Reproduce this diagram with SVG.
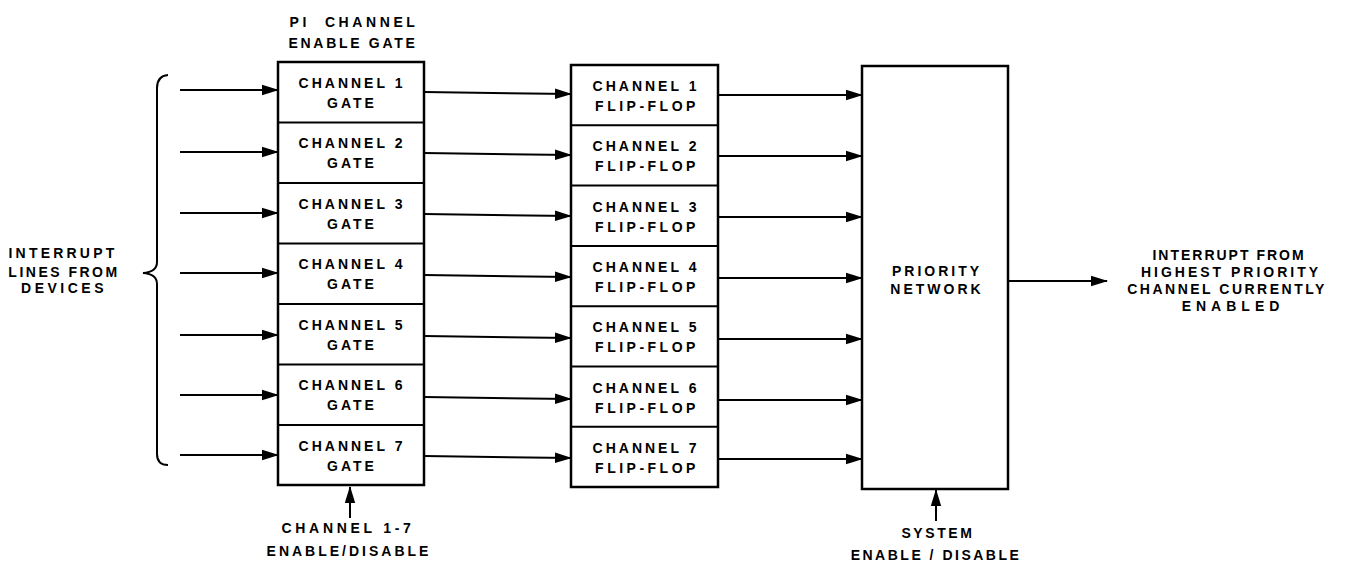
<svg xmlns="http://www.w3.org/2000/svg" width="1348" height="563" viewBox="0 0 1348 563">
<style>
.bg{fill:#fff}
.box{fill:#fff;stroke:#000;stroke-width:2.5}
.div{stroke:#000;stroke-width:2}
.ln{stroke:#000;stroke-width:2;fill:none}
.t{font-family:"Liberation Sans",Arial,sans-serif;font-weight:bold;font-size:14px;letter-spacing:3px;text-anchor:middle;fill:#000}
.ff{letter-spacing:3.5px}
</style>
<defs>
<marker id="ah" markerUnits="userSpaceOnUse" markerWidth="18" markerHeight="12" refX="16" refY="6" orient="auto">
<path d="M0,0.8 L17,6 L0,11.2 Z" fill="#000"/>
</marker>
</defs>
<rect class="bg" x="0" y="0" width="1348" height="563"/>

<g id="title">
<text class="t" x="354" y="27" xml:space="preserve" style="letter-spacing:3.6px">PI  CHANNEL</text>
<text class="t" x="353" y="48" style="letter-spacing:2.7px">ENABLE GATE</text>
</g>

<g id="inputs-label">
<text class="t" x="63" y="258" style="letter-spacing:3.2px">INTERRUPT</text>
<text class="t" x="64" y="277" style="letter-spacing:2.5px">LINES FROM</text>
<text class="t" x="64" y="293" style="letter-spacing:3.5px">DEVICES</text>
<path class="ln" d="M168,75 Q157,76 157,88 L157,262 Q157,272 143,273 Q157,274 157,284 L157,454 Q157,465 168,465"/>
</g>

<g id="gates">
<rect class="box" x="278" y="62" width="146" height="423"/>
<line class="div" x1="278" y1="122.5" x2="424" y2="122.5"/>
<line class="div" x1="278" y1="183" x2="424" y2="183"/>
<line class="div" x1="278" y1="243.5" x2="424" y2="243.5"/>
<line class="div" x1="278" y1="304" x2="424" y2="304"/>
<line class="div" x1="278" y1="364.5" x2="424" y2="364.5"/>
<line class="div" x1="278" y1="425" x2="424" y2="425"/>
<g id="gate1"><text class="t" x="352" y="88">CHANNEL 1</text><text class="t" x="352" y="108">GATE</text></g>
<g id="gate2"><text class="t" x="352" y="148">CHANNEL 2</text><text class="t" x="352" y="168">GATE</text></g>
<g id="gate3"><text class="t" x="352" y="209">CHANNEL 3</text><text class="t" x="352" y="229">GATE</text></g>
<g id="gate4"><text class="t" x="352" y="269">CHANNEL 4</text><text class="t" x="352" y="289">GATE</text></g>
<g id="gate5"><text class="t" x="352" y="330">CHANNEL 5</text><text class="t" x="352" y="350">GATE</text></g>
<g id="gate6"><text class="t" x="352" y="390">CHANNEL 6</text><text class="t" x="352" y="410">GATE</text></g>
<g id="gate7"><text class="t" x="352" y="451">CHANNEL 7</text><text class="t" x="352" y="471">GATE</text></g>
</g>

<g id="flipflops">
<rect class="box" x="571" y="65" width="147" height="422"/>
<line class="div" x1="571" y1="125.3" x2="718" y2="125.3"/>
<line class="div" x1="571" y1="185.6" x2="718" y2="185.6"/>
<line class="div" x1="571" y1="245.9" x2="718" y2="245.9"/>
<line class="div" x1="571" y1="306.2" x2="718" y2="306.2"/>
<line class="div" x1="571" y1="366.5" x2="718" y2="366.5"/>
<line class="div" x1="571" y1="426.8" x2="718" y2="426.8"/>
<g id="ff1"><text class="t" x="646" y="91">CHANNEL 1</text><text class="t ff" x="647" y="111">FLIP-FLOP</text></g>
<g id="ff2"><text class="t" x="646" y="151">CHANNEL 2</text><text class="t ff" x="647" y="171">FLIP-FLOP</text></g>
<g id="ff3"><text class="t" x="646" y="212">CHANNEL 3</text><text class="t ff" x="647" y="232">FLIP-FLOP</text></g>
<g id="ff4"><text class="t" x="646" y="272">CHANNEL 4</text><text class="t ff" x="647" y="292">FLIP-FLOP</text></g>
<g id="ff5"><text class="t" x="646" y="332">CHANNEL 5</text><text class="t ff" x="647" y="352">FLIP-FLOP</text></g>
<g id="ff6"><text class="t" x="646" y="393">CHANNEL 6</text><text class="t ff" x="647" y="413">FLIP-FLOP</text></g>
<g id="ff7"><text class="t" x="646" y="453">CHANNEL 7</text><text class="t ff" x="647" y="473">FLIP-FLOP</text></g>
</g>

<g id="priority">
<rect class="box" x="862" y="66" width="146" height="423"/>
<text class="t" x="937" y="276">PRIORITY</text>
<text class="t" x="937" y="294">NETWORK</text>
</g>

<g id="output-label">
<text class="t" x="1229" y="260" style="letter-spacing:2px">INTERRUPT FROM</text>
<text class="t" x="1231" y="277" style="letter-spacing:3px">HIGHEST PRIORITY</text>
<text class="t" x="1227" y="294" style="letter-spacing:2.5px">CHANNEL CURRENTLY</text>
<text class="t" x="1233" y="311" style="letter-spacing:5px">ENABLED</text>
</g>

<g id="bottom-labels">
<text class="t" x="348" y="533" style="letter-spacing:3.7px">CHANNEL 1-7</text>
<text class="t" x="349" y="556" style="letter-spacing:3px">ENABLE/DISABLE</text>
<text class="t" x="938" y="538" style="letter-spacing:2.6px">SYSTEM</text>
<text class="t" x="936" y="560" style="letter-spacing:2.5px">ENABLE / DISABLE</text>
</g>

<g id="connectors">
<line class="ln" x1="180" y1="90" x2="278" y2="90" marker-end="url(#ah)"/>
<line class="ln" x1="180" y1="152" x2="278" y2="152" marker-end="url(#ah)"/>
<line class="ln" x1="180" y1="213" x2="278" y2="213" marker-end="url(#ah)"/>
<line class="ln" x1="180" y1="273" x2="278" y2="273" marker-end="url(#ah)"/>
<line class="ln" x1="180" y1="335" x2="278" y2="335" marker-end="url(#ah)"/>
<line class="ln" x1="180" y1="395" x2="278" y2="395" marker-end="url(#ah)"/>
<line class="ln" x1="180" y1="455" x2="278" y2="455" marker-end="url(#ah)"/>

<line class="ln" x1="424" y1="92" x2="571" y2="94" marker-end="url(#ah)"/>
<line class="ln" x1="424" y1="153" x2="571" y2="155" marker-end="url(#ah)"/>
<line class="ln" x1="424" y1="214" x2="571" y2="216" marker-end="url(#ah)"/>
<line class="ln" x1="424" y1="275" x2="571" y2="277" marker-end="url(#ah)"/>
<line class="ln" x1="424" y1="336" x2="571" y2="338" marker-end="url(#ah)"/>
<line class="ln" x1="424" y1="397" x2="571" y2="399" marker-end="url(#ah)"/>
<line class="ln" x1="424" y1="456" x2="571" y2="458" marker-end="url(#ah)"/>

<line class="ln" x1="718" y1="95" x2="862" y2="95" marker-end="url(#ah)"/>
<line class="ln" x1="718" y1="156" x2="862" y2="156" marker-end="url(#ah)"/>
<line class="ln" x1="718" y1="217" x2="862" y2="217" marker-end="url(#ah)"/>
<line class="ln" x1="718" y1="278" x2="862" y2="278" marker-end="url(#ah)"/>
<line class="ln" x1="718" y1="339" x2="862" y2="339" marker-end="url(#ah)"/>
<line class="ln" x1="718" y1="400" x2="862" y2="400" marker-end="url(#ah)"/>
<line class="ln" x1="718" y1="459" x2="862" y2="459" marker-end="url(#ah)"/>

<line class="ln" x1="1008" y1="281" x2="1107" y2="281" marker-end="url(#ah)"/>
<line class="ln" x1="350" y1="518" x2="350" y2="487" marker-end="url(#ah)"/>
<line class="ln" x1="936" y1="521" x2="936" y2="490" marker-end="url(#ah)"/>
</g>
</svg>
